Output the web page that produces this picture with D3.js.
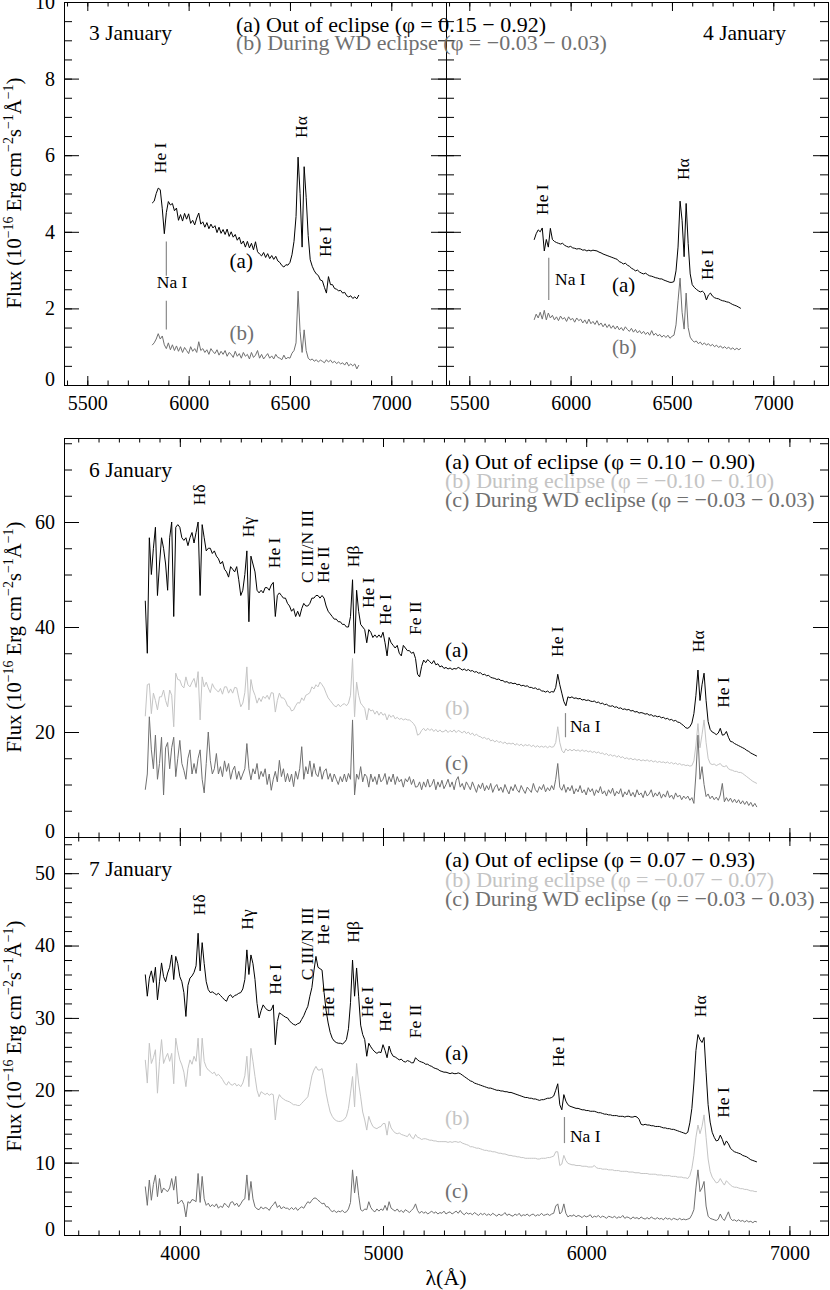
<!DOCTYPE html>
<html>
<head>
<meta charset="utf-8">
<script src="https://cdn.jsdelivr.net/npm/d3@7"></script>
<style>
  body { margin: 0; background: #fff; }
  svg text { font-family: "Liberation Serif", "Times New Roman", serif; }
</style>
</head>
<body>
<div id="chart"></div>
<script>

// Wavelength sampling (Angstrom), 10 A steps
var wave_top = d3.range(5820, 6841, 10);   // 3 and 4 January
var wave_bot = d3.range(3830, 6841, 10);   // 6 and 7 January

// Tick labels
var xticks_top = [5500, 6000, 6500, 7000];
var xticks_bot = [4000, 5000, 6000, 7000];
var yticks_top = [0, 2, 4, 6, 8, 10];
var yticks_6jan = [0, 20, 40, 60];
var yticks_7jan = [0, 10, 20, 30, 40, 50];

// Legends
var legend_3_4 = ["(a) Out of eclipse (\u03C6 = 0.15 \u2212 0.92)", "(b) During WD eclipse (\u03C6 = \u22120.03 \u2212 0.03)"];
var legend_6 = ["(a) Out of eclipse (\u03C6 = 0.10 \u2212 0.90)", "(b) During eclipse (\u03C6 = \u22120.10 \u2212 0.10)", "(c) During WD eclipse (\u03C6 = \u22120.03 \u2212 0.03)"];
var legend_7 = ["(a) Out of eclipse (\u03C6 = 0.07 \u2212 0.93)", "(b) During eclipse (\u03C6 = \u22120.07 \u2212 0.07)", "(c) During WD eclipse (\u03C6 = \u22120.03 \u2212 0.03)"];

// Flux, 10^-16 erg cm-2 s-1 A-1
// 3 January
var flux_3a = [
 4.75, 4.8, 5.0, 5.14, 5.1, 4.6, 3.95, 4.5, 4.79, 4.7,
 4.74, 4.55, 4.62, 4.3, 4.45, 4.28, 4.48, 4.33, 4.47, 4.22,
 4.3, 4.18, 4.36, 4.49, 4.2, 4.26, 4.12, 4.24, 4.08, 4.2,
 4.1, 4.16, 3.98, 4.12, 3.96, 4.06, 3.93, 4.07, 3.88, 4.0,
 3.86, 3.93, 3.78, 3.86, 3.68, 3.76, 3.6, 3.75, 3.58, 3.7,
 3.53, 3.74, 3.48, 3.42, 3.37, 3.46, 3.33, 3.43, 3.3, 3.38,
 3.28, 3.36, 3.24, 3.2, 3.12, 3.08, 3.14, 3.13, 3.2, 3.4,
 3.75, 4.4, 5.95, 5.0, 3.6, 5.7, 4.9, 3.9, 3.27, 3.1,
 2.98, 2.9, 2.86, 2.74, 2.72, 2.55, 2.4, 2.83, 2.62, 2.62,
 2.52, 2.5, 2.46, 2.47, 2.4, 2.42, 2.33, 2.3, 2.33, 2.26,
 2.3, 2.25, 2.35];
var flux_3b = [
 1.04, 1.1, 1.2, 1.34, 1.2, 1.28, 1.05, 0.95, 1.1, 0.92,
 1.05, 0.9, 1.02, 0.88, 1.0, 0.85, 0.98, 0.9, 0.82, 1.0,
 0.88, 0.95, 0.85, 1.13, 0.9, 0.95, 0.85, 0.92, 0.8, 0.95,
 0.87, 0.82, 0.92, 0.78, 0.88, 0.8, 0.9, 0.75, 0.85, 0.8,
 0.72, 0.88, 0.75, 0.82, 0.7, 0.85, 0.75, 0.8, 0.68, 0.85,
 0.72, 0.78, 0.9, 0.7, 0.8, 0.68, 0.75, 0.82, 0.7, 0.76,
 0.68, 0.8, 0.72, 0.7, 0.66, 0.78, 0.68, 0.72, 0.7, 0.83,
 0.9, 1.1, 2.45, 1.4, 0.85, 1.44, 0.9, 0.7, 0.65, 0.68,
 0.62, 0.66, 0.6, 0.65, 0.62, 0.58, 0.66, 0.6, 0.65, 0.58,
 0.62, 0.56, 0.6, 0.55, 0.58, 0.52, 0.6, 0.5, 0.55, 0.5,
 0.55, 0.42, 0.52];
// 4 January
var flux_4a = [
 3.79, 3.95, 4.05, 4.0, 4.1, 3.5, 3.8, 3.6, 4.09, 3.8,
 3.75, 3.72, 3.7, 3.68, 3.7, 3.65, 3.62, 3.6, 3.62, 3.58,
 3.57, 3.55, 3.56, 3.55, 3.52, 3.53, 3.5, 3.52, 3.5, 3.52,
 3.51, 3.5, 3.47, 3.45, 3.42, 3.4, 3.38, 3.36, 3.34, 3.32,
 3.3, 3.28, 3.22, 3.2, 3.16, 3.18, 3.13, 3.1, 3.05, 3.02,
 2.98, 3.0, 2.95, 2.92, 2.9, 2.92, 2.88, 2.85, 2.84, 2.82,
 2.8, 2.79, 2.77, 2.77, 2.74, 2.72, 2.7, 2.68, 2.68, 2.7,
 2.98, 3.6, 4.8, 4.3, 3.35, 4.74, 3.7, 2.9, 2.62, 2.55,
 2.5, 2.46, 2.43, 2.45, 2.4, 2.22, 2.35, 2.4, 2.32, 2.28,
 2.26, 2.25, 2.22, 2.2, 2.19, 2.17, 2.16, 2.13, 2.1, 2.08,
 2.06, 2.03, 2.0];
var flux_4b = [
 1.7, 1.85, 1.75, 1.9, 1.72, 1.95, 1.7, 1.88, 1.75, 1.82,
 1.7, 1.78, 1.68, 1.8, 1.72, 1.76, 1.66, 1.78, 1.7, 1.74,
 1.64, 1.75, 1.68, 1.72, 1.62, 1.7, 1.6, 1.72, 1.6, 1.66,
 1.58, 1.68, 1.56, 1.62, 1.52, 1.6, 1.5, 1.58, 1.48, 1.55,
 1.46, 1.54, 1.44, 1.5, 1.42, 1.52, 1.45, 1.4, 1.48, 1.38,
 1.45, 1.36, 1.42, 1.34, 1.4, 1.32, 1.38, 1.3, 1.42, 1.3,
 1.35, 1.28, 1.32, 1.25, 1.3, 1.24, 1.3, 1.22, 1.27, 1.3,
 1.57, 2.2, 2.79, 1.9, 1.46, 2.4, 1.5, 1.25, 1.17, 1.12,
 1.15, 1.08, 1.12, 1.05, 1.1, 1.04, 1.08, 1.02, 1.06, 1.0,
 1.04, 0.98, 1.02, 0.96, 1.0, 0.95, 0.99, 0.93, 0.97, 0.92,
 0.96, 0.92, 0.96];
// 6 January
var flux_6a = [
 45, 35, 57, 50, 55, 59, 46, 52, 57, 55,
 52, 47, 57, 60, 42, 59, 59.5, 59, 57, 56.5,
 57, 55.5, 57, 58, 56, 58, 60, 46, 59.5, 57,
 54.5, 55, 55, 54, 54.5, 53.5, 53, 52, 52.5, 51,
 50.5, 49.5, 51.5, 51, 50.5, 51.5, 49, 46, 47, 50,
 54.5, 41, 53.5, 52, 50.5, 47, 46.5, 47, 46.5, 47.5,
 47.5, 47, 48, 48.5, 42, 46, 46.5, 46, 45.5, 45.5,
 44.5, 44, 43, 43.5, 42, 43, 42, 43.5, 44.5, 44,
 44, 44.5, 45.5, 45.5, 46, 46, 45.5, 46, 45.5, 44,
 43, 42.5, 42, 41.5, 41.5, 41, 41, 40.5, 40.5, 40,
 40, 42, 49, 35, 47, 43, 40.5, 40, 39.5, 37,
 39.5, 39, 38, 38.5, 38, 38.5, 38, 39, 37, 34.5,
 38, 37, 36.5, 36, 36.5, 35, 34.5, 36.5, 36, 35.5,
 35.5, 35, 35.2, 34, 31, 30.5, 32.5, 33.7, 33.2, 33.8,
 33.4, 33, 33.6, 32.8, 33, 32.4, 32.6, 32.1, 32.3, 32,
 32.2, 31.9, 32.1, 32, 32.3, 32.1, 31.8, 32, 31.7, 31.9,
 31.6, 31.7, 31.4, 31.5, 31.2, 31.3, 30.9, 31, 30.7, 30.8,
 30.4, 30.3, 30.2, 30, 30.1, 29.8, 29.8, 29.5, 29.6, 29.3,
 29.4, 29.2, 29.3, 29, 29.1, 28.8, 28.9, 28.7, 28.8, 28.5,
 28.5, 28.3, 28.4, 28.1, 28.2, 27.8, 27.8, 27.6, 27.8, 27.5,
 27.7, 27.6, 28.5, 31, 29, 27.4, 25.8, 25, 26.7, 26.5,
 26.7, 26.4, 26.5, 26.3, 26.4, 26.1, 26.2, 26, 26.1, 25.9,
 25.8, 25.9, 25.6, 25.7, 25.4, 25.5, 25.2, 25.3, 25, 24.9,
 25, 24.7, 24.8, 24.5, 24.6, 24.3, 24.4, 24.2, 24.3, 24,
 24.1, 23.8, 23.9, 23.6, 23.7, 23.6, 23.4, 23.5, 23.2, 23.3,
 23, 23.1, 22.9, 23, 22.7, 22.8, 22.5, 22.6, 22.3, 22.4,
 22.1, 22.2, 21.9, 21.8, 21.5, 21.2, 20.8, 20.7, 21, 21.7,
 23.5, 27, 31.8, 26, 29, 31.2, 26, 22, 20.5, 20,
 19.8, 19.5, 19.8, 20.7, 19.4, 19.5, 20.1, 19, 18.2, 18.1,
 17.8, 17.6, 17.4, 17.2, 17, 16.8, 16.5, 16.3, 16, 15.8,
 15.6, 15.4];
var flux_6b = [
 23, 29, 29.2, 23.5, 27.4, 26, 24.2, 26.7, 26.7, 28,
 26, 24.8, 28, 27, 21, 31.2, 30, 29.9, 28.8, 28.4,
 30.5, 29, 28.6, 29.5, 30.2, 28.5, 31.5, 22.3, 30.5, 28.6,
 29.5, 28.4, 27.5, 29.2, 28.4, 28, 27.6, 28.3, 27.2, 28.6,
 28.6, 27.4, 28.2, 27.4, 28.5, 28.4, 26.5, 24.8, 25.5, 27.5,
 32.4, 24.2, 30, 28, 27, 25.5, 26.5, 25.8, 26.8, 26.4,
 27, 26.2, 27.5, 27.4, 23.8, 26, 27.4, 26.5, 26.5, 26,
 25, 24.8, 24, 24.2, 25, 25.6, 25.5, 26.5, 26, 27,
 27.2, 27.5, 28.6, 28.2, 29, 28.6, 29.5, 29, 28.4, 27.4,
 26.5, 26, 25.5, 25, 24.8, 25.3, 24.8, 25.2, 25.4, 25,
 25.5, 27, 34, 22.9, 29.5, 27, 25.5, 25, 24.5, 22.3,
 24.5, 24, 24.2, 23.4, 24, 23.2, 23.8, 23.2, 23.5, 22.3,
 23.3, 22.8, 23.2, 22.5, 22.8, 22.4, 22.6, 22.3, 22.5, 22.3,
 22.3, 22, 21.6, 21, 19.4, 19.6, 20.3, 20.7, 20.2, 20.7,
 20.3, 20.6, 20.1, 20.5, 20, 20.4, 20, 20.1, 20.4, 19.9,
 20.3, 20, 20.4, 19.9, 20.3, 20.1, 19.8, 20.2, 19.7, 20,
 19.5, 19.8, 19.3, 19.6, 19.2, 19.1, 18.8, 19, 18.6, 18.8,
 18.3, 18.5, 18.1, 18.4, 18, 18.2, 17.8, 18.1, 17.7, 17.9,
 17.7, 17.9, 17.5, 17.8, 17.4, 17.7, 17.3, 17.6, 17.4, 17.6,
 17.2, 17.5, 17.1, 17.4, 17.1, 17.3, 17.1, 17.3, 17, 17.3,
 17.1, 17.2, 18, 21, 18, 16.5, 16, 16.8, 16.4, 16.7,
 16.4, 16.7, 16.4, 16.6, 16.3, 16.6, 16.3, 16.5, 16.2, 16.4,
 16.1, 16.3, 16, 16.2, 15.9, 16, 15.7, 15.9, 15.5, 15.7,
 15.4, 15.6, 15.2, 15.5, 15.1, 15.3, 14.9, 15.1, 14.8, 15,
 14.7, 14.9, 14.6, 14.8, 14.5, 14.7, 14.5, 14.7, 14.4, 14.6,
 14.3, 14.5, 14.2, 14.4, 14.2, 14.3, 14.1, 14.3, 14, 14.2,
 13.9, 14.1, 13.8, 14, 13.7, 13.8, 13.6, 13.7, 13.5, 13.6,
 14.5, 17.5, 21.6, 17, 19.5, 22.3, 18, 15, 14, 13.8,
 13.9, 13.6, 13.8, 14, 13.5, 13.4, 13.6, 13, 12.8, 12.7,
 12.5, 12.5, 12.3, 12.3, 12.1, 11.8, 11.5, 11.2, 10.9, 10.6,
 10.4, 10.2];
var flux_6c = [
 9, 12, 22.9, 16.6, 13, 19.4, 11, 14, 19, 8,
 17, 18, 13, 17, 19, 11.5, 15, 18.4, 14, 12.7,
 11, 15, 16.6, 12, 14, 12.1, 15, 16.6, 11, 8.4,
 14, 20, 14.6, 12, 13, 15.9, 12, 13.4, 11.5, 14.5,
 12.5, 14, 11, 12.7, 13.5, 11, 12.5, 10.9, 12, 13,
 17.8, 13, 10.9, 13, 12, 14, 11, 12.5, 11.5, 13,
 10, 12, 8.9, 11, 12.5, 10.5, 14.6, 11.5, 13, 10.5,
 12.1, 10.5, 12, 9.6, 12.5, 11, 13, 17.2, 11, 13.4,
 12, 14.5, 11.5, 14, 12, 11.5, 13.4, 11, 12.5, 13,
 11, 12.1, 10.5, 12, 11, 10, 11.5, 10.5, 12, 10.5,
 12.1, 11, 22.3, 8, 12, 11, 13.4, 10.5, 12, 11.5,
 9.5, 12, 10.5, 11.5, 10, 12, 10.5, 11, 12.1, 10,
 11.5, 10.5, 12, 10, 11.5, 10.5, 11, 9.5, 11.1, 10.5,
 11.5, 10, 11, 9.5, 9.6, 10.5, 9, 10.5, 9.5, 11,
 9.5, 10, 11, 9, 10.5, 9.5, 10.8, 9.2, 10, 11,
 9.5, 10.5, 9, 10.8, 11.5, 9.5, 10.2, 9, 10.5, 9.8,
 9, 10.5, 9.5, 8.5, 10, 9.2, 10.3, 8.8, 9.8, 9,
 10.2, 8.5, 9.5, 10, 8.8, 9.5, 8.5, 10, 9, 8.2,
 9.6, 8.8, 10, 9, 8.5, 9.8, 9, 8.3, 9.5, 9,
 8.5, 10.2, 9, 8.5, 9.6, 9, 10, 8.6, 9.4, 8.8,
 9.8, 9, 11, 14, 9.5, 8.9, 10, 8.5, 9.5, 8.8,
 9.8, 8.2, 9.2, 8.6, 9.8, 8.4, 9, 8, 9.4, 8.6,
 9.2, 7.9, 9, 8.4, 9.6, 8.2, 8.8, 7.8, 9, 8.3,
 9.3, 7.8, 8.7, 8.2, 9.2, 7.6, 8.6, 8, 9, 7.8,
 8.5, 7.6, 9, 8, 8.4, 7.5, 8.8, 7.8, 8.2, 9,
 7.6, 8.4, 7.8, 8.6, 7.4, 8.2, 7.6, 8.8, 7.5, 8,
 7.2, 8.4, 7.6, 8, 7.1, 7.8, 7.3, 7.8, 7, 7.5,
 6.4, 12, 19.4, 11, 13.4, 10, 7.7, 8.2, 7.3, 7.8,
 7.1, 7.6, 7, 8, 10.2, 6.7, 7.5, 6.8, 7.4, 6.6,
 7.2, 6.5, 7.1, 6.3, 6.9, 6.2, 6.8, 6, 6.6, 5.8,
 6.4, 5.7];
// 7 January
var flux_7a = [
 36, 33, 35.5, 36.5, 34.9, 37, 32.5, 35, 37.6, 35.7,
 35, 36.2, 37, 38.7, 35.3, 38.5, 37.5, 35.7, 35, 33.5,
 30.2, 34.5, 35.5, 35.8, 36.3, 37.2, 41.7, 36.5, 40.4, 37.5,
 35, 33.9, 33.5, 33.6, 33.4, 33.2, 33.4, 33.1, 32.8, 32.5,
 32.3, 33, 33.2, 32.8, 33.1, 33.2, 33.4, 33.5, 34, 35.3,
 39.4, 36, 38.7, 37.5, 35.3, 32, 30, 31, 31.8, 31.4,
 31.1, 31, 31.1, 31.8, 26.3, 29.5, 30.7, 30.5, 30.3, 30.1,
 30, 29.6, 29.3, 29.1, 29, 29.2, 29.3, 29.8, 30.3, 31,
 31.6, 33, 34.2, 36.5, 38.5, 37, 36.8, 36.6, 33.5, 31,
 29.3, 28, 27.2, 26.8, 26.6, 26.5, 26.5, 26.4, 26.6, 27,
 28.5, 32.1, 38, 33, 36.9, 33, 29, 27.7, 27, 24.7,
 26.5, 26, 25.6, 25.3, 25.1, 25.3, 25.2, 26.3, 25.5, 24.5,
 26.1, 25.2, 24.7, 24.6, 24.4, 24.2, 24.3, 24, 23.9, 24.1,
 24, 23.8, 23.8, 24.5, 24.2, 24, 23.9, 23.8, 23.6, 23.6,
 23.4, 23.3, 23.1, 23, 22.9, 22.7, 22.6, 22.5, 22.5, 22.4,
 22.3, 22.4, 22.3, 22.3, 22.4, 22.3, 22.1, 21.9, 21.7, 21.5,
 21.3, 21.2, 21, 20.9, 20.8, 20.7, 20.6, 20.5, 20.4, 20.3,
 20.3, 20.2, 20.1, 20, 20, 19.9, 19.9, 19.8, 19.8, 19.7,
 19.7, 19.6, 19.5, 19.4, 19.3, 19.2, 19.1, 19, 19, 18.9,
 18.9, 18.8, 18.8, 18.7, 18.6, 18.7, 18.7, 18.8, 18.9, 18.9,
 19, 19.2, 20, 20.9, 18, 17.3, 19.4, 18.5, 18, 17.8,
 17.7, 17.6, 17.5, 17.5, 17.4, 17.3, 17.3, 17.2, 17.2, 17.1,
 17.1, 17.1, 17, 16.9, 16.9, 16.8, 16.7, 16.7, 16.6, 16.6,
 16.5, 16.5, 16.5, 16.4, 16.4, 16.4, 16.3, 16.4, 16.4, 16.3,
 16.3, 16.4, 16.3, 16, 15.3, 15.2, 15.3, 15.2, 15.2, 15.1,
 15.1, 15, 15, 15, 14.9, 14.8, 14.8, 14.7, 14.7, 14.6,
 14.6, 14.5, 14.4, 14.3, 14.2, 14.1, 14, 14.2, 15.5, 17.5,
 21, 25.5, 27.7, 27, 26.6, 27.3, 22.5, 18, 15.6, 14.2,
 13.5, 13, 13.1, 13.8, 13.2, 12.4, 13, 12.6, 12, 11.7,
 11.5, 11.4, 11.3, 11.2, 11, 10.9, 10.8, 10.6, 10.4, 10.3,
 10.2, 10.1];
var flux_7b = [
 24.2, 21, 26.5, 23.7, 24.5, 25.6, 19.6, 24, 27, 23.7,
 24.5, 25.1, 24, 25.1, 20.9, 27.2, 25.5, 24.2, 23.5, 22.5,
 20.5, 23, 24.2, 23.6, 24.7, 24, 27.2, 22, 27.2, 24,
 23.2, 22.8, 22.6, 22.3, 22.5, 22, 22.2, 21.9, 21.5, 21,
 20.7, 21.2, 20.8, 20.7, 21, 20.6, 20.8, 20.5, 21, 22,
 24.7, 20.5, 25.8, 24, 21.9, 20, 19.1, 19.8, 19.6, 19.4,
 19.6, 19.3, 19.5, 19.4, 15.9, 18.5, 19.4, 19, 18.8, 18.6,
 18.5, 18.4, 18.2, 18, 18, 17.9, 17.9, 18.2, 18.5, 18.8,
 19.1, 20.5, 22, 22.8, 23.3, 22.8, 22.8, 23, 21.5, 19.6,
 18.2, 17, 16.4, 16, 15.8, 15.7, 15.7, 15.8, 16, 16.4,
 17.5, 19.6, 21.9, 17.7, 23.7, 21, 19.1, 17, 15.9, 14.5,
 16.4, 15.6, 15, 14.8, 14.7, 14.9, 15, 15.4, 15.4, 13.8,
 15.7, 14.8, 14.4, 14.1, 14, 14.1, 13.9, 13.8, 13.7, 13.6,
 14, 13.5, 13.3, 13.9, 13.5, 13.4, 13.2, 13.3, 13.3, 13.2,
 13.1, 13.1, 13, 13, 12.9, 12.9, 12.9, 12.9, 12.9, 12.8,
 12.9, 12.8, 12.9, 12.9, 12.8, 12.9, 12.7, 12.6, 12.5, 12.4,
 12.2, 12.2, 12.1, 12, 12, 11.9, 11.8, 11.7, 11.7, 11.6,
 11.6, 11.5, 11.5, 11.4, 11.3, 11.3, 11.2, 11.2, 11.1, 11,
 11, 10.9, 10.9, 10.8, 10.8, 10.7, 10.7, 10.6, 10.6, 10.6,
 10.6, 10.6, 10.6, 10.5, 10.5, 10.6, 10.6, 10.6, 10.7, 10.7,
 10.8, 10.9, 11.5, 11.5, 9.6, 9.8, 11, 10.3, 9.9, 9.8,
 9.7, 9.7, 9.6, 9.6, 9.6, 9.5, 9.5, 9.5, 9.4, 9.4,
 9.4, 9.6, 9.3, 9.2, 9.2, 9.1, 9.1, 9.1, 9, 9,
 9, 8.9, 8.9, 8.9, 8.8, 8.8, 8.8, 8.8, 8.7, 8.7,
 8.7, 8.6, 8.6, 8.6, 8.5, 8.5, 8.5, 8.5, 8.4, 8.4,
 8.4, 8.4, 8.3, 8.3, 8.3, 8.2, 8.2, 8.2, 8.2, 8.1,
 8.1, 8.1, 8, 8, 8, 7.9, 7.9, 7.8, 8.2, 9.2,
 11, 13.5, 15.2, 14, 15, 16.6, 13.5, 10.5, 8.8, 8,
 7.6, 7.2, 7.3, 7.8, 7.3, 6.9, 7.5, 7.2, 6.9, 6.7,
 6.6, 6.6, 6.5, 6.4, 6.4, 6.3, 6.3, 6.2, 6.1, 6.1,
 6, 6];
var flux_7c = [
 6.7, 4.1, 7.6, 4.8, 7, 8.3, 5.3, 7.8, 5.8, 6.5,
 6.2, 6, 6.5, 7.8, 6.2, 8.1, 4.3, 4.6, 4.8, 4.2,
 2.5, 4.6, 4.4, 4.9, 4.8, 4.6, 8.5, 4.5, 8.1, 5,
 4.1, 4.4, 3.9, 4.2, 3.9, 4.3, 3.7, 4, 3.8, 4.4,
 4.1, 3.8, 4.5, 4.6, 4.1, 4.4, 3.9, 4.3, 4.8, 5,
 8.3, 4.8, 7.4, 5, 3.9, 3.6, 3.5, 3.9, 3.6, 3.8,
 3.7, 3.4, 3.9, 4.2, 4.6, 3.8, 4.1, 3.6, 3.9, 3.7,
 3.7, 3.5, 3.8, 3.5, 3.8, 3.4, 3.7, 3.9, 3.7, 4.2,
 4.6, 4.4, 4.8, 5.1, 5.1, 4.8, 4.6, 4.3, 4.4, 3.9,
 3.9, 3.5, 3.2, 3.4, 3.1, 3.3, 3.2, 3.4, 3.1, 3.2,
 3.6, 4.5, 9, 5.8, 8.1, 5.5, 3.5, 3.3, 3.6, 3.5,
 4.6, 3.8, 3.4, 3.2, 3.6, 3.3, 3.6, 3.4, 4.1, 3.4,
 4.6, 3.7, 3.5, 3.3, 3.6, 3.2, 3.4, 3.1, 3.5, 3.3,
 3.1, 3.4, 3.7, 4.3, 3.4, 3, 3.3, 3, 3.2, 2.9,
 3.1, 3.3, 3, 3.2, 2.9, 3.1, 3, 3.3, 2.9, 3.1,
 3.2, 2.9, 3.1, 3.3, 3, 3.4, 3, 2.8, 3.1, 2.9,
 3, 2.8, 3.1, 2.9, 2.7, 3, 2.8, 3, 2.7, 2.9,
 2.7, 3, 2.8, 2.6, 2.9, 2.7, 2.8, 3.1, 2.7, 2.9,
 2.7, 2.6, 2.9, 2.7, 3, 2.6, 2.8, 2.7, 2.9, 2.6,
 2.8, 2.9, 2.6, 2.8, 2.7, 3, 2.7, 2.8, 2.9, 2.7,
 2.9, 3, 4, 4.3, 2.9, 3.2, 4.3, 3, 2.5, 2.7,
 2.6, 2.8, 2.5, 2.7, 2.6, 2.4, 2.7, 2.5, 2.6, 2.8,
 2.4, 2.6, 2.5, 2.7, 2.4, 2.6, 2.5, 2.3, 2.6, 2.5,
 2.4, 2.6, 2.3, 2.5, 2.4, 2.7, 2.3, 2.5, 2.4, 2.2,
 2.5, 2.3, 2.4, 2.2, 2.5, 2.3, 2.2, 2.4, 2.2, 2.5,
 2.3, 2.2, 2.4, 2.2, 2.3, 2.1, 2.4, 2.2, 2.3, 2.1,
 2.3, 2.2, 2.1, 2.3, 2.1, 2.2, 2.1, 2.2, 2.3, 2.8,
 3.5, 6.5, 9, 6, 6.5, 7.4, 4, 2.6, 2.3, 2.2,
 2.1, 2, 2.2, 2.9, 2.3, 2, 2.6, 3.2, 2.3, 2,
 2.1, 1.9, 2.1, 1.9, 2, 1.8, 2, 1.8, 1.9, 1.7,
 1.9, 1.8];

// Line identifications: [label, wavelength, flux at bottom of text]
var lines_3 = [["He I", 5857, 5.53], ["H\u03B1", 6555, 6.45], ["He I", 6674, 3.34]];
var lines_4 = [["He I", 5857, 4.44], ["H\u03B1", 6555, 5.35], ["He I", 6673, 2.74]];
var lines_6 = [["H\u03B4", 4094, 63.2], ["H\u03B3", 4334, 57.1], ["He I", 4463, 51.2], ["C III/N III", 4624, 48.4],
  ["He II", 4705, 48.4], ["H\u03B2", 4852, 51.4], ["He I", 4926, 43.6], ["He I", 5010, 40.4], ["Fe II", 5157, 38.5],
  ["He I", 5855, 34.3], ["H\u03B1", 6550, 35.2], ["He I", 6673, 24.6]];
var lines_7 = [["H\u03B4", 4094, 44.2], ["H\u03B3", 4331, 42.2], ["He I", 4468, 33.2], ["C III/N III", 4626, 35.2],
  ["He II", 4705, 40.1], ["He I", 4729, 30.1], ["H\u03B2", 4852, 40.4], ["He I", 4921, 30.1], ["He I", 5010, 28.1],
  ["Fe II", 5157, 27.2], ["He I", 5861, 23.2], ["H\u03B1", 6560, 30.1], ["He I", 6673, 16.2]];

var col_a = "#000000", col_b = "#c4c4c4", col_c = "#707070";
var font = "Liberation Serif, Times New Roman, serif";

var svg = d3.select("#chart").append("svg")
  .attr("width", 830).attr("height", 1290);

function drawPanel(p) {
  var x = d3.scaleLinear().domain(p.xdom).range([p.x0, p.x1]);
  var y = d3.scaleLinear().domain(p.ydom).range([p.y1, p.y0]);
  var g = svg.append("g");

  var clipId = "clip" + p.id;
  svg.append("clipPath").attr("id", clipId).append("rect")
    .attr("x", p.x0).attr("y", p.y0).attr("width", p.x1 - p.x0).attr("height", p.y1 - p.y0);

  var line = d3.line().x(function(d){ return x(d[0]); }).y(function(d){ return y(d[1]); });
  p.series.forEach(function(s){
    var pts = p.wave.map(function(w, i){ return [w, s.flux[i]]; })
      .filter(function(d){ return d[1] != null; });
    g.append("path").datum(pts)
      .attr("clip-path", "url(#" + clipId + ")")
      .attr("fill", "none").attr("stroke", s.color).attr("stroke-width", 1)
      .attr("stroke-linejoin", "round")
      .attr("d", line);
  });

  // ticks
  function style(sel) {
    sel.select(".domain").remove();
    sel.attr("font-family", font).attr("font-size", 20);
  }
  g.append("g").attr("transform", "translate(0," + p.y1 + ")")
    .call(d3.axisBottom(x).tickValues(p.xMinor).tickSize(-4.5).tickFormat("")).call(style);
  g.append("g").attr("transform", "translate(0," + p.y0 + ")")
    .call(d3.axisTop(x).tickValues(p.xMinor).tickSize(-4.5).tickFormat("")).call(style);
  g.append("g").attr("transform", "translate(0," + p.y1 + ")")
    .call(d3.axisBottom(x).tickValues(p.xMajor).tickSize(-9).tickPadding(11)
      .tickFormat(p.xLabels ? d3.format("d") : "")).call(style);
  g.append("g").attr("transform", "translate(0," + p.y0 + ")")
    .call(d3.axisTop(x).tickValues(p.xMajor).tickSize(-9).tickFormat("")).call(style);

  g.append("g").attr("transform", "translate(" + p.x0 + ",0)")
    .call(d3.axisLeft(y).tickValues(p.yMinor).tickSize(-8).tickFormat("")).call(style);
  g.append("g").attr("transform", "translate(" + p.x1 + ",0)")
    .call(d3.axisRight(y).tickValues(p.yMinor).tickSize(-8).tickFormat("")).call(style);
  var yl = g.append("g").attr("transform", "translate(" + p.x0 + ",0)")
    .call(d3.axisLeft(y).tickValues(p.yMajor).tickSize(-15).tickPadding(9)
      .tickFormat(p.yLabels ? d3.format("d") : "")).call(style);
  yl.selectAll("text").filter(function(d){ return d === 0; }).attr("y", -6);
  g.append("g").attr("transform", "translate(" + p.x1 + ",0)")
    .call(d3.axisRight(y).tickValues(p.yMajor).tickSize(-15).tickFormat("")).call(style);

  // frame
  g.append("rect")
    .attr("x", p.x0 + 0.5).attr("y", p.y0 + 0.5)
    .attr("width", p.x1 - p.x0).attr("height", p.y1 - p.y0)
    .attr("fill", "none").attr("stroke", "#000").attr("stroke-width", 1);

  // line identifications (rotated)
  p.lines.forEach(function(l){
    g.append("text")
      .attr("transform", "translate(" + (x(l[1]) + 6) + "," + y(l[2]) + ") rotate(-90)")
      .attr("font-size", 17.5).attr("fill", "#000")
      .text(l[0]);
  });

  // Na I marker
  p.naSeg.forEach(function(s){
    g.append("line")
      .attr("x1", x(p.naWave)).attr("x2", x(p.naWave))
      .attr("y1", y(s[0])).attr("y2", y(s[1]))
      .attr("stroke", "#8a8a8a").attr("stroke-width", 1.2);
  });
  g.append("text").attr("x", x(p.naText[0])).attr("y", y(p.naText[1]))
    .attr("font-size", 17.5).text("Na I");

  // series labels (a) (b) (c)
  p.series.forEach(function(s){
    g.append("text").attr("x", x(s.lab[0])).attr("y", y(s.lab[1]))
      .attr("font-size", 21).attr("fill", s.color).text(s.name);
  });

  // date
  g.append("text").attr("x", p.date[1]).attr("y", p.date[2])
    .attr("font-size", 21.5).text(p.date[0]);

  return { x: x, y: y };
}

var xMinorTop = d3.range(5400, 7271, 100);
var xMinorBot = d3.range(3500, 7191, 100);

drawPanel({
  id: 3, x0: 64, x1: 446, y0: 2, y1: 385, xdom: [5385, 7270], ydom: [0, 10],
  xMajor: xticks_top, xMinor: xMinorTop, xLabels: true,
  yMajor: yticks_top, yMinor: d3.range(0, 10.01, 0.5), yLabels: true,
  wave: wave_top,
  series: [
    { name: "(a)", flux: flux_3a, color: col_a, lab: [6202, 3.05] },
    { name: "(b)", flux: flux_3b, color: col_c, lab: [6202, 1.17] }
  ],
  lines: lines_3, naWave: 5890, naSeg: [[3.75, 2.85], [2.2, 1.45]], naText: [5843, 2.53],
  date: ["3 January", 89, 40]
});
drawPanel({
  id: 4, x0: 446, x1: 828, y0: 2, y1: 385, xdom: [5385, 7270], ydom: [0, 10],
  xMajor: xticks_top, xMinor: xMinorTop, xLabels: true,
  yMajor: yticks_top, yMinor: d3.range(0, 10.01, 0.5), yLabels: false,
  wave: wave_top,
  series: [
    { name: "(a)", flux: flux_4a, color: col_a, lab: [6204, 2.43] },
    { name: "(b)", flux: flux_4b, color: col_c, lab: [6204, 0.81] }
  ],
  lines: lines_4, naWave: 5892, naSeg: [[3.32, 2.22]], naText: [5923, 2.61],
  date: ["4 January", 703, 40]
});
drawPanel({
  id: 6, x0: 64, x1: 828, y0: 438, y1: 837, xdom: [3430, 7190], ydom: [0, 76],
  xMajor: xticks_bot, xMinor: xMinorBot, xLabels: false,
  yMajor: yticks_6jan, yMinor: d3.range(0, 76, 5), yLabels: true,
  wave: wave_bot,
  series: [
    { name: "(a)", flux: flux_6a, color: col_a, lab: [5305, 34.3] },
    { name: "(b)", flux: flux_6b, color: col_b, lab: [5305, 23.2] },
    { name: "(c)", flux: flux_6c, color: col_c, lab: [5305, 12.8] }
  ],
  lines: lines_6, naWave: 5898, naSeg: [[23.6, 19.0]], naText: [5920, 20],
  date: ["6 January", 89, 477]
});
drawPanel({
  id: 7, x0: 64, x1: 828, y0: 837, y1: 1235, xdom: [3430, 7190], ydom: [0, 55],
  xMajor: xticks_bot, xMinor: xMinorBot, xLabels: true,
  yMajor: yticks_7jan, yMinor: d3.range(0, 55, 2), yLabels: true,
  wave: wave_bot,
  series: [
    { name: "(a)", flux: flux_7a, color: col_a, lab: [5305, 24.2] },
    { name: "(b)", flux: flux_7b, color: col_b, lab: [5305, 15.2] },
    { name: "(c)", flux: flux_7c, color: col_c, lab: [5305, 5.1] }
  ],
  lines: lines_7, naWave: 5893, naSeg: [[16.3, 12.7]], naText: [5920, 12.9],
  date: ["7 January", 89, 876]
});

// legends
function legend(items, colors, x0, ys) {
  items.forEach(function(t, i){
    svg.append("text").attr("x", x0).attr("y", ys[i])
      .attr("font-size", 22).attr("fill", colors[i]).text(t);
  });
}
legend(legend_3_4, [col_a, col_c], 236, [32, 50]);
legend(legend_6, [col_a, col_b, col_c], 445, [469, 488, 507]);
legend(legend_7, [col_a, col_b, col_c], 445, [867, 887, 906]);

// y axis titles
function yTitle(cy) {
  var t = svg.append("text")
    .attr("transform", "translate(21," + cy + ") rotate(-90)")
    .attr("text-anchor", "middle").attr("font-size", 20.5);
  var parts = [["Flux (10", 0], ["\u221216", 1], [" Erg cm", 0], ["\u22122", 1], ["s", 0],
               ["\u22121", 1], ["\u00C5", 0], ["\u22121", 1], [")", 0]];
  var prev = 0;
  parts.forEach(function(pt){
    var ts = t.append("tspan").text(pt[0]);
    if (pt[1]) ts.attr("font-size", 14).attr("dy", -8);
    else if (prev) ts.attr("dy", 8);
    prev = pt[1];
  });
}
yTitle(193);
yTitle(637);
yTitle(1036);

svg.append("text").attr("x", 446).attr("y", 1285)
  .attr("text-anchor", "middle").attr("font-size", 22).text("\u03BB(\u00C5)");

</script>
</body>
</html>
